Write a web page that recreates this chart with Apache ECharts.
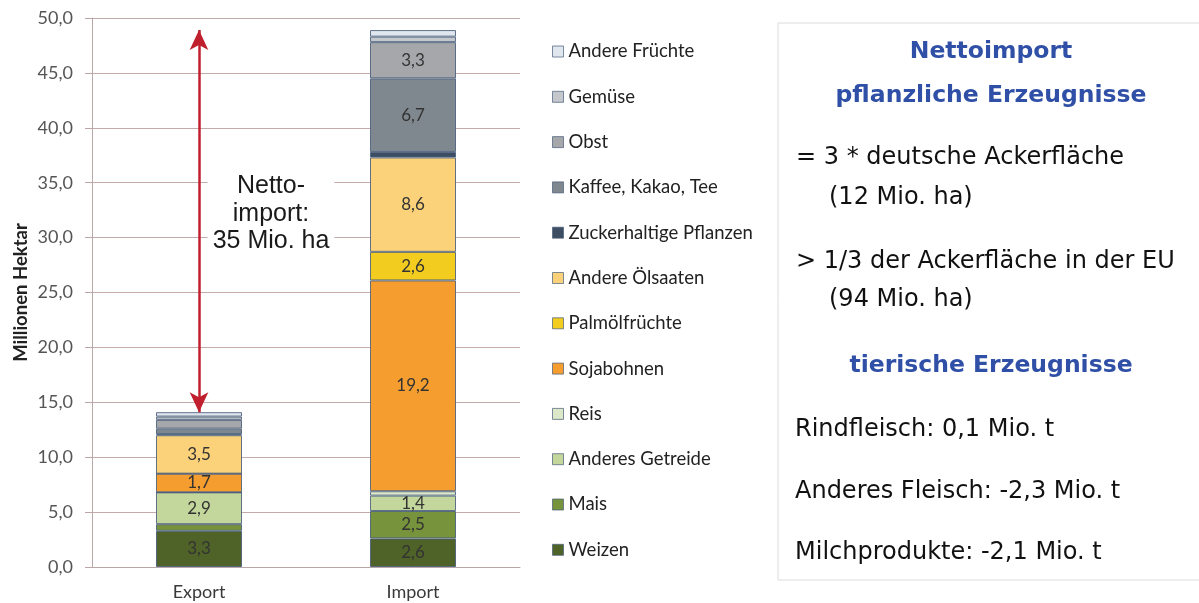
<!DOCTYPE html>
<html lang="de">
<head>
    <meta charset="UTF-8">
    <title>Nettoimport Flächen</title>
    <style>
        html, body { margin: 0; padding: 0; background: #fff; }
    </style>
</head>
<body>
    <div id="main" style="width: 1199px;height:603px;"></div>
    <script src="https://cdn.jsdelivr.net/npm/echarts@6/dist/echarts.min.js"></script>
    <script>

// Kategorien (x-Achse)
var categories = ['Export', 'Import'];

// Kulturen von unten nach oben gestapelt
var crops = ['Weizen', 'Mais', 'Anderes Getreide', 'Reis', 'Sojabohnen', 'Palmölfrüchte',
    'Andere Ölsaaten', 'Zuckerhaltige Pflanzen', 'Kaffee, Kakao, Tee', 'Obst', 'Gemüse', 'Andere Früchte'];

// Millionen Hektar, Reihenfolge wie crops
var exportValues = [3.3, 0.6, 2.9, 0.0, 1.7, 0.0, 3.5, 0.1, 0.5, 0.8, 0.3, 0.4];
var importValues = [2.6, 2.5, 1.4, 0.4, 19.2, 2.6, 8.6, 0.5, 6.7, 3.3, 0.5, 0.6];

var cropColors = ['#4f6228', '#77933c', '#c3d69b', '#dde8c8', '#f59d2f', '#f2cd1f',
    '#fbd27a', '#3d4e63', '#80888f', '#a6a7aa', '#c4c8cd', '#dfe6ee'];

var yTicks = [0, 5, 10, 15, 20, 25, 30, 35, 40, 45, 50];

var nettoText = ['Netto-', 'import:', '35 Mio. ha'];

function sum(arr) {
    return arr.reduce(function (a, b) { return a + b; }, 0);
}
var exportTotal = +sum(exportValues).toFixed(1);
var importTotal = +sum(importValues).toFixed(1);

var series = crops.map(function (name, i) {
    return {
        name: name,
        type: 'bar',
        stack: 'flaeche',
        barWidth: 86,
        data: [exportValues[i], importValues[i]],
        itemStyle: {
            color: cropColors[i],
            borderColor: 'rgba(72,92,122,0.85)',
            borderWidth: 1
        },
        label: {
            show: true,
            position: 'inside',
            color: '#333',
            fontFamily: 'Lato',
            fontSize: 17,
            formatter: function (p) {
                return p.value >= 1 ? p.value.toFixed(1).replace('.', ',') : '';
            }
        }
    };
});

// Doppelpfeil Nettoimport
series.push({
    name: 'netto',
    type: 'line',
    data: [],
    silent: true,
    markLine: {
        silent: true,
        symbol: ['arrow', 'arrow'],
        symbolSize: [14, 20],
        label: {show: false},
        lineStyle: {color: '#c0202e', width: 2.5, type: 'solid'},
        data: [[
            {coord: [categories[0], exportTotal]},
            {coord: [categories[0], importTotal]}
        ]]
    }
});

var blue = '#2f50a6';
var boxFont = 'DejaVu Sans';

var option = {
    animation: false,
    grid: {
        left: 92,
        right: 679,
        top: 18,
        bottom: 36
    },
    legend: {
        orient: 'vertical',
        left: 547,
        top: 37,
        itemWidth: 11,
        itemHeight: 11,
        itemGap: 26.3,
        icon: 'rect',
        data: crops.slice().reverse(),
        itemStyle: {borderColor: 'rgba(72,92,122,0.7)', borderWidth: 1},
        textStyle: {
            fontFamily: 'Lato',
            fontSize: 18.5,
            lineHeight: 18.5,
            color: '#222'
        }
    },
    xAxis: {
        type: 'category',
        data: categories,
        axisTick: {show: false},
        axisLine: {lineStyle: {color: '#b9a7a7'}},
        axisLabel: {
            margin: 16,
            fontFamily: 'Lato',
            fontSize: 18,
            color: '#3a3a3a'
        }
    },
    yAxis: {
        type: 'value',
        min: yTicks[0],
        max: yTicks[yTicks.length - 1],
        interval: yTicks[1] - yTicks[0],
        name: 'Millionen Hektar',
        nameLocation: 'middle',
        nameGap: 61,
        nameTextStyle: {
            fontFamily: 'Lato',
            fontWeight: 'bold',
            fontSize: 18.5,
            color: '#222'
        },
        axisLine: {show: true, lineStyle: {color: '#b9a7a7'}},
        axisTick: {show: true, length: 7, lineStyle: {color: '#b9a7a7'}},
        splitLine: {lineStyle: {color: '#c4aaaa'}},
        axisLabel: {
            margin: 19,
            fontFamily: 'Lato',
            fontSize: 18,
            color: '#555',
            formatter: function (v) { return v.toFixed(1).replace('.', ','); }
        }
    },
    graphic: [
        {
            type: 'text',
            z: 100,
            x: 271,
            y: 214,
            style: {
                text: nettoText.join('\n'),
                align: 'center',
                verticalAlign: 'middle',
                fontFamily: 'Liberation Sans',
                fontSize: 25,
                lineHeight: 27.5,
                fill: '#1a1a1a',
                backgroundColor: '#fff',
                padding: [4, 5]
            }
        },
        {
            type: 'rect',
            z: 100,
            shape: {x: 778, y: 23, width: 440, height: 557},
            style: {fill: '#fff', stroke: '#dcdcdc', lineWidth: 1}
        },
        {type: 'text', z: 101, x: 991, y: 52, style: {text: 'Nettoimport', align: 'center', verticalAlign: 'middle', fontFamily: boxFont, fontWeight: 'bold', fontSize: 23.5, fill: blue}},
        {type: 'text', z: 101, x: 991, y: 96, style: {text: 'pflanzliche Erzeugnisse', align: 'center', verticalAlign: 'middle', fontFamily: boxFont, fontWeight: 'bold', fontSize: 23.5, fill: blue}},
        {type: 'text', z: 101, x: 796, y: 158, style: {text: '= 3 * deutsche Ackerfläche', verticalAlign: 'middle', fontFamily: boxFont, fontSize: 24, fill: '#111'}},
        {type: 'text', z: 101, x: 829, y: 198, style: {text: '(12 Mio. ha)', verticalAlign: 'middle', fontFamily: boxFont, fontSize: 24, fill: '#111'}},
        {type: 'text', z: 101, x: 796, y: 262, style: {text: '> 1/3 der Ackerfläche in der EU', verticalAlign: 'middle', fontFamily: boxFont, fontSize: 24, fill: '#111'}},
        {type: 'text', z: 101, x: 829, y: 300, style: {text: '(94 Mio. ha)', verticalAlign: 'middle', fontFamily: boxFont, fontSize: 24, fill: '#111'}},
        {type: 'text', z: 101, x: 991, y: 366, style: {text: 'tierische Erzeugnisse', align: 'center', verticalAlign: 'middle', fontFamily: boxFont, fontWeight: 'bold', fontSize: 23.5, fill: blue}},
        {type: 'text', z: 101, x: 795, y: 430, style: {text: 'Rindfleisch: 0,1 Mio. t', verticalAlign: 'middle', fontFamily: boxFont, fontSize: 24, fill: '#111'}},
        {type: 'text', z: 101, x: 795, y: 492, style: {text: 'Anderes Fleisch: -2,3 Mio. t', verticalAlign: 'middle', fontFamily: boxFont, fontSize: 24, fill: '#111'}},
        {type: 'text', z: 101, x: 795, y: 553, style: {text: 'Milchprodukte: -2,1 Mio. t', verticalAlign: 'middle', fontFamily: boxFont, fontSize: 24, fill: '#111'}}
    ],
    series: series
};

var myChart = echarts.init(document.getElementById('main'));
myChart.setOption(option);

    </script>
</body>
</html>
